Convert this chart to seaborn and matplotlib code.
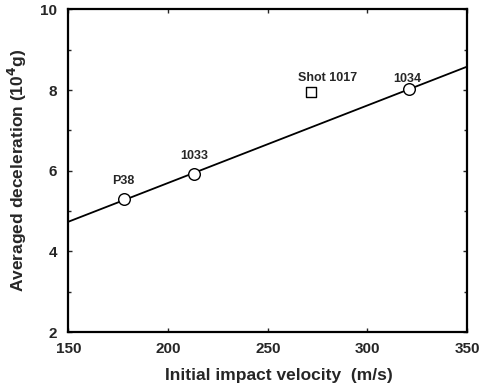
import matplotlib
matplotlib.use("Agg")
import matplotlib.pyplot as plt
import seaborn as sns
import pandas as pd
from matplotlib.ticker import MultipleLocator

# Shots lying on the fitted trend (open circles)
shots = ["P38", "1033", "1034"]
velocity = [177.9, 213.0, 320.9]
deceleration = [5.30, 5.91, 8.03]

# Separate shot plotted as an open square
extra_shot = ["Shot 1017"]
extra_velocity = [271.7]
extra_deceleration = [7.94]

x_ticks = [150, 200, 250, 300, 350]
y_ticks = [2, 4, 6, 8, 10]

sns.set_theme(style="ticks")
plt.rcParams["font.family"] = ["Liberation Sans", "DejaVu Sans"]
plt.rcParams["font.weight"] = "bold"

df = pd.DataFrame({"shot": shots, "v": velocity, "a": deceleration})
df2 = pd.DataFrame({"shot": extra_shot, "v": extra_velocity, "a": extra_deceleration})

fig = plt.figure(figsize=(4.82, 3.92), dpi=100)
ax = fig.add_axes([0.142, 0.153, 0.827, 0.823])
ax.set_xlim(150, 350)
ax.set_ylim(2, 10)

# Linear fit across the full velocity range
sns.regplot(data=df, x="v", y="a", ax=ax, ci=None, truncate=False,
            scatter=False, line_kws=dict(color="black", lw=1.3))

sns.scatterplot(data=df, x="v", y="a", ax=ax, marker="o", s=70,
                facecolor="white", edgecolor="black", linewidth=1.0, zorder=3)
sns.scatterplot(data=df2, x="v", y="a", ax=ax, marker="s", s=44,
                facecolor="white", edgecolor="black", linewidth=1.0, zorder=3)

offsets = {"P38": (-1, 18), "1033": (0, 18), "1034": (-2, 10)}
for name, xv, yv in zip(shots, velocity, deceleration):
    ax.annotate(name, (xv, yv), xytext=offsets[name], textcoords="offset pixels",
                ha="center", va="center", fontsize=9, fontweight="bold")
for name, xv, yv in zip(extra_shot, extra_velocity, extra_deceleration):
    ax.annotate(name, (xv, yv), xytext=(17, 14), textcoords="offset pixels",
                ha="center", va="center", fontsize=9, fontweight="bold")

ax.set_xticks(x_ticks)
ax.set_yticks(y_ticks)
ax.yaxis.set_minor_locator(MultipleLocator(1))
ax.tick_params(which="both", direction="in", top=True, right=True,
               labelsize=11, width=1)
ax.tick_params(axis="x", which="both", pad=7)
ax.tick_params(axis="y", which="both", pad=8)
ax.tick_params(which="major", length=3)
ax.tick_params(which="minor", length=2)
for lab in ax.get_xticklabels() + ax.get_yticklabels():
    lab.set_fontweight("bold")
for sp in ax.spines.values():
    sp.set_visible(True)
    sp.set_linewidth(1.6)
    sp.set_color("black")

ax.set_xlabel("Initial impact velocity  (m/s)", fontsize=12.5, fontweight="bold", labelpad=9)
ax.xaxis.label.set_x(0.528)
ax.set_ylabel("Averaged deceleration (10$^{\\mathbf{4}}$g)", fontsize=12.5,
              fontweight="bold", labelpad=8)

fig.savefig("out.png", dpi=100)
